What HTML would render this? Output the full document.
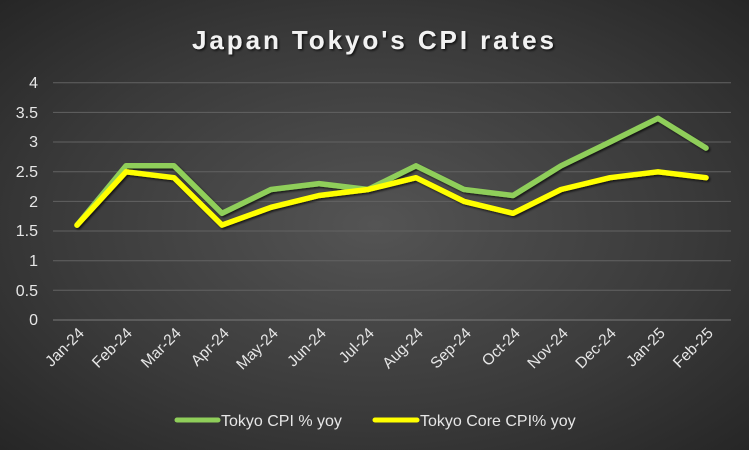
<!DOCTYPE html>
<html><head><style>
html,body{margin:0;padding:0;width:749px;height:450px;overflow:hidden}
body{background:radial-gradient(ellipse at center,#545454 0%,#3a3a3a 60%,#262626 100%)}
svg{position:absolute;left:0;top:0;font-family:"Liberation Sans",sans-serif}
</style></head><body>
<svg width="749" height="450" viewBox="0 0 749 450">
<defs><filter id="sh"><feDropShadow dx="1.5" dy="1.5" stdDeviation="1" flood-color="#000" flood-opacity="0.7"/></filter></defs>
<text x="373" y="49" text-anchor="middle" font-size="26" font-weight="bold" fill="#f2f2f2" textLength="362" filter="url(#sh)">Japan Tokyo's CPI rates</text>
<g stroke="#626262" stroke-width="1">
<line x1="53" x2="731" y1="82.7" y2="82.7"/><line x1="53" x2="731" y1="112.4" y2="112.4"/>
<line x1="53" x2="731" y1="142" y2="142"/><line x1="53" x2="731" y1="171.7" y2="171.7"/>
<line x1="53" x2="731" y1="201.4" y2="201.4"/><line x1="53" x2="731" y1="231" y2="231"/>
<line x1="53" x2="731" y1="260.7" y2="260.7"/><line x1="53" x2="731" y1="290.3" y2="290.3"/>
<line x1="53" x2="731" y1="320" y2="320" stroke="#7a7a7a"/>
</g>
<g fill="#e6e6e6" font-size="16" text-anchor="end">
<text x="38" y="88">4</text><text x="38" y="118">3.5</text><text x="38" y="147">3</text>
<text x="38" y="177">2.5</text><text x="38" y="207">2</text><text x="38" y="236">1.5</text>
<text x="38" y="266">1</text><text x="38" y="296">0.5</text><text x="38" y="325">0</text>
</g>
<g fill="#e6e6e6" font-size="15.5" text-anchor="end">
<text transform="translate(85,334) rotate(-45)">Jan-24</text>
<text transform="translate(133,334) rotate(-45)">Feb-24</text>
<text transform="translate(182,334) rotate(-45)">Mar-24</text>
<text transform="translate(230,334) rotate(-45)">Apr-24</text>
<text transform="translate(279,334) rotate(-45)">May-24</text>
<text transform="translate(327,334) rotate(-45)">Jun-24</text>
<text transform="translate(375,334) rotate(-45)">Jul-24</text>
<text transform="translate(424,334) rotate(-45)">Aug-24</text>
<text transform="translate(472,334) rotate(-45)">Sep-24</text>
<text transform="translate(521,334) rotate(-45)">Oct-24</text>
<text transform="translate(569,334) rotate(-45)">Nov-24</text>
<text transform="translate(617,334) rotate(-45)">Dec-24</text>
<text transform="translate(666,334) rotate(-45)">Jan-25</text>
<text transform="translate(714,334) rotate(-45)">Feb-25</text>
</g>
<g fill="none" stroke-width="5.5" stroke-linejoin="round" stroke-linecap="round" filter="url(#sh)">
<polyline stroke="#8fce5a" points="77,225.1 126,165.8 174,165.8 222,213.3 271,189.5 319,183.6 368,189.5 416,165.8 464,189.5 513,195.5 561,165.8 610,142 658,118.3 706,148"/>
<polyline stroke="#ffff00" points="77,225.1 126,171.8 174,177.7 222,225.1 271,207.3 319,195.5 368,189.5 416,177.7 464,201.4 513,213.3 561,189.5 610,177.7 658,171.8 706,177.7"/>
</g>
<line x1="177" x2="218" y1="420" y2="420" stroke="#8fce5a" stroke-width="5" stroke-linecap="round"/>
<text x="221" y="426" font-size="16" fill="#e6e6e6">Tokyo CPI % yoy</text>
<line x1="375" x2="417" y1="420" y2="420" stroke="#ffff00" stroke-width="5" stroke-linecap="round"/>
<text x="420" y="426" font-size="16" fill="#e6e6e6">Tokyo Core CPI% yoy</text>
</svg>
</body></html>
